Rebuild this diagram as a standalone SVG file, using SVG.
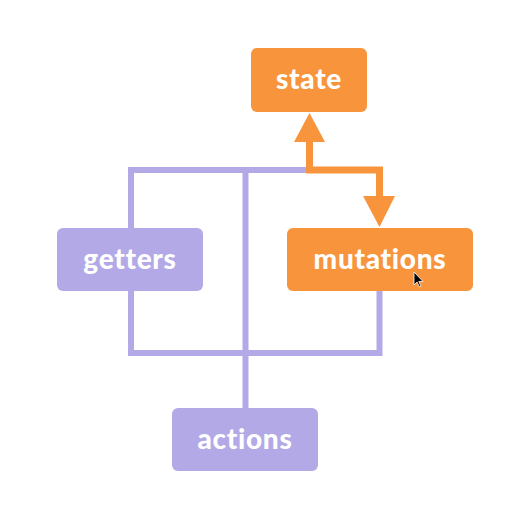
<svg xmlns="http://www.w3.org/2000/svg" width="525" height="531" viewBox="0 0 525 531">
<style>
.box{stroke:none}
.p{fill:#B3A9E7}
.o{fill:#F8943B}
.t{fill:#fff;font-family:Lato,"Open Sans",sans-serif;font-weight:900;font-size:28px;letter-spacing:0.7px;text-anchor:middle;font-variant-ligatures:none}
.pl{fill:none;stroke:#B3A9E7;stroke-width:6}
.ol{fill:none;stroke:#F8943B;stroke-width:7}
</style>
<rect width="525" height="531" fill="#fff"/>
<g id="connectors">
<polyline class="pl" points="306,170 131,170 131,353 379.5,353 379.5,291"/>
<line class="pl" x1="245.5" y1="170" x2="245.5" y2="408"/>
<polyline class="ol" points="309.5,140 309.5,170 379.5,170 379.5,198"/>
<polygon class="o" points="309.5,113 294,142 325,142"/>
<polygon class="o" points="379.5,227 363,196 395,196"/>
</g>
<g id="state"><rect class="box o" x="251" y="48" width="116" height="64" rx="6"/><text class="t" x="309" y="89">state</text></g>
<g id="getters"><rect class="box p" x="57" y="228" width="146" height="63" rx="6"/><text class="t" x="130" y="269">getters</text></g>
<g id="mutations"><rect class="box o" x="287" y="228" width="186" height="63" rx="6"/><text class="t" x="380" y="269">mutations</text></g>
<g id="actions"><rect class="box p" x="172" y="408" width="146" height="63" rx="6"/><text class="t" x="245" y="449">actions</text></g>
<polygon points="414,272 414,285 417,282 419.5,287 421,286.3 418.8,281.5 423,281.5" fill="#000" stroke="#fff" stroke-width="0.8"/>
</svg>
